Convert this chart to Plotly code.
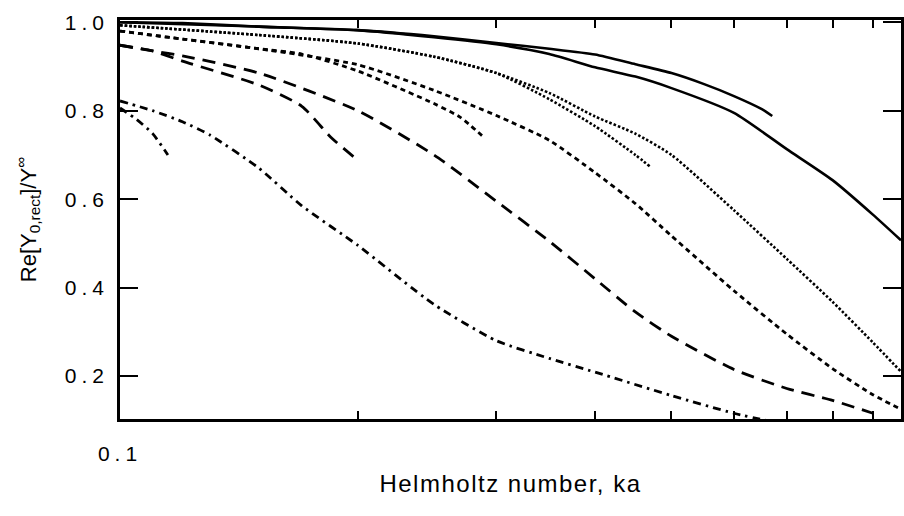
import plotly.graph_objects as go

# ---- data ----
ka_solid_long = [0.1, 0.12, 0.15, 0.2, 0.25, 0.3, 0.35, 0.4, 0.45, 0.5, 0.6, 0.7, 0.8, 0.9, 0.977]
re_solid_long = [1.0, 0.998, 0.99, 0.982, 0.966, 0.95, 0.928, 0.898, 0.877, 0.851, 0.795, 0.713, 0.643, 0.565, 0.507]

ka_solid_short = [0.1, 0.15, 0.2, 0.25, 0.3, 0.35, 0.4, 0.45, 0.5, 0.55, 0.6, 0.65, 0.671]
re_solid_short = [1.0, 0.99, 0.982, 0.968, 0.953, 0.94, 0.927, 0.905, 0.885, 0.86, 0.833, 0.804, 0.788]

ka_dot_long = [0.1, 0.15, 0.2, 0.25, 0.3, 0.35, 0.4, 0.45, 0.5, 0.6, 0.7, 0.8, 0.9, 0.977]
re_dot_long = [0.993, 0.971, 0.952, 0.922, 0.885, 0.84, 0.787, 0.748, 0.70, 0.575, 0.465, 0.368, 0.276, 0.21]

ka_dot_short = [0.1, 0.15, 0.2, 0.25, 0.3, 0.35, 0.4, 0.45, 0.471]
re_dot_short = [0.993, 0.971, 0.952, 0.922, 0.885, 0.826, 0.765, 0.70, 0.672]

ka_sdash_long = [0.1, 0.12, 0.15, 0.2, 0.25, 0.3, 0.35, 0.4, 0.45, 0.5, 0.6, 0.7, 0.8, 0.9, 0.977]
re_sdash_long = [0.98, 0.962, 0.94, 0.904, 0.846, 0.789, 0.733, 0.66, 0.59, 0.517, 0.393, 0.295, 0.217, 0.158, 0.125]

ka_sdash_short = [0.1, 0.12, 0.15, 0.17, 0.2, 0.25, 0.27, 0.29]
re_sdash_short = [0.98, 0.962, 0.94, 0.928, 0.89, 0.816, 0.785, 0.738]

ka_ldash_long = [0.1, 0.11, 0.12, 0.15, 0.2, 0.25, 0.3, 0.35, 0.4, 0.45, 0.5, 0.6, 0.7, 0.8, 0.9]
re_ldash_long = [0.948, 0.935, 0.924, 0.885, 0.80, 0.70, 0.595, 0.505, 0.42, 0.345, 0.29, 0.215, 0.172, 0.145, 0.116]

ka_ldash_short = [0.1, 0.11, 0.12, 0.15, 0.17, 0.185, 0.198]
re_ldash_short = [0.948, 0.935, 0.912, 0.858, 0.81, 0.74, 0.695]

ka_dashdot_long = [0.1, 0.11, 0.12, 0.13, 0.15, 0.17, 0.2, 0.25, 0.3, 0.35, 0.4, 0.5, 0.6, 0.7]
re_dashdot_long = [0.822, 0.80, 0.775, 0.745, 0.67, 0.585, 0.496, 0.362, 0.28, 0.24, 0.209, 0.156, 0.116, 0.09]

ka_dashdot_short = [0.1, 0.105, 0.11, 0.115]
re_dashdot_short = [0.806, 0.78, 0.748, 0.70]

x_label_vals = [0.1]
x_label_text = ["0.1"]
x_minor_vals = [0.2, 0.3, 0.4, 0.5, 0.6, 0.7, 0.8, 0.9]
y_tick_vals = [0.2, 0.4, 0.6, 0.8, 1.0]
y_tick_text = ["0.2", "0.4", "0.6", "0.8", "1.0"]

# ---- styles ----
SOLID = dict(color="black", width=2.6, dash="solid")
DOT = dict(color="black", width=2.6, dash="2.5px,2px")
SDASH = dict(color="black", width=2.8, dash="5px,4px")
LDASH = dict(color="black", width=2.8, dash="13px,8px")
DASHDOT = dict(color="black", width=2.8, dash="8px,5px,2.5px,5px")

series = [
    (ka_solid_long, re_solid_long, SOLID),
    (ka_solid_short, re_solid_short, SOLID),
    (ka_dot_long, re_dot_long, DOT),
    (ka_dot_short, re_dot_short, DOT),
    (ka_sdash_long, re_sdash_long, SDASH),
    (ka_sdash_short, re_sdash_short, SDASH),
    (ka_ldash_long, re_ldash_long, LDASH),
    (ka_ldash_short, re_ldash_short, LDASH),
    (ka_dashdot_long, re_dashdot_long, DASHDOT),
    (ka_dashdot_short, re_dashdot_short, DASHDOT),
]

fig = go.Figure()
for xs, ys, ln in series:
    fig.add_trace(go.Scatter(x=xs, y=ys, mode="lines", line=dict(shape="spline", smoothing=0.6, **ln),
                             showlegend=False, hoverinfo="skip"))

FAMILY = "Liberation Sans, Arial, sans-serif"
TICKFONT = dict(family=FAMILY, size=21, color="black")
XTITLEFONT = dict(family=FAMILY, size=24, color="black")
YTITLEFONT = dict(family=FAMILY, size=22, color="black")

fig.update_layout(
    width=904, height=516,
    margin=dict(l=120, r=0, t=20, b=97),
    paper_bgcolor="white", plot_bgcolor="white",
    font=TICKFONT,
    showlegend=False,
)
fig.update_xaxes(
    type="log", range=[-1, -0.0101],
    tickvals=x_label_vals, ticktext=x_label_text, tickfont=TICKFONT,
    ticks="inside", ticklen=8, tickwidth=2, tickcolor="black",
    minor=dict(tickvals=x_minor_vals, ticks="inside", ticklen=8, tickwidth=2,
               tickcolor="black", showgrid=False),
    showline=True, linewidth=2.5, linecolor="black", mirror="ticks",
    showgrid=False, zeroline=False,
    ticklabelstandoff=14,
    title=dict(text="Helmholtz number, ka", font=XTITLEFONT, standoff=12),
)
fig.update_yaxes(
    range=[0.103, 1.005],
    tickvals=y_tick_vals, ticktext=y_tick_text, tickfont=TICKFONT,
    ticks="inside", ticklen=18, tickwidth=2, tickcolor="black",
    showline=True, linewidth=2.5, linecolor="black", mirror="ticks",
    showgrid=False, zeroline=False,
    ticklabelstandoff=4,
    title=dict(text="Re[Y<sub>0,rect</sub>]/Y<sup>\u221e</sup>", font=YTITLEFONT, standoff=38),
)

letter_spacing_js = (
    "var s=document.createElement('style');"
    "s.textContent='.xtick text,.ytick text{letter-spacing:5px}"
    " .g-xtitle text{letter-spacing:1.5px}';"
    "document.head.appendChild(s);"
)

fig.write_html("out.html", post_script=letter_spacing_js)
